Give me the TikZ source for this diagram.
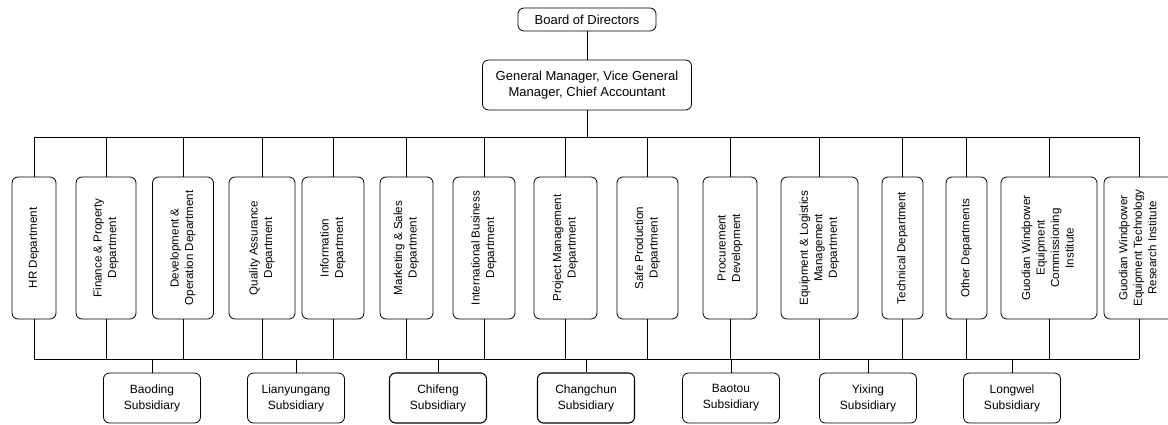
\documentclass[tikz,border=0pt]{standalone}
\usepackage{fontspec}
\setmainfont{Liberation Sans}
\usepackage{graphicx}
\usetikzlibrary{positioning}

\newcommand{\vtext}[1]{\rotatebox{90}{\begin{tabular}{@{}c@{}}#1\end{tabular}}}

\tikzset{
    box/.style={draw, line width=0.8pt, rounded corners=6pt, align=center, inner sep=2pt},
    dept/.style={box, minimum height=142pt, font=\fontsize{11.6}{14.5}\selectfont},
    sub/.style={box, minimum width=97pt, minimum height=50pt, font=\fontsize{12}{16}\selectfont},
    link/.style={line width=0.8pt},
}

\begin{document}
\begin{tikzpicture}[x=1pt, y=1pt]
    \useasboundingbox (0,0) rectangle (1168,-425);

    % Nodes
    \node[box, minimum width=138pt, minimum height=23pt, font=\fontsize{13}{15}\selectfont]
        (board) at (587,-19.5) {Board of Directors};
    \node[box, minimum width=209pt, minimum height=50pt, font=\fontsize{13}{16}\selectfont]
        (gm) at (587,-85) {General Manager, Vice General\\Manager, Chief Accountant};

    % Departments
    \node[dept, minimum width=44pt] (hr) at (34,-248) {\vtext{HR Department}};
    \node[dept, minimum width=60pt] (finance) at (106,-248) {\vtext{Finance \& Property\\Department}};
    \node[dept, minimum width=61pt] (develop) at (183,-248) {\vtext{Development \&\\Operation Department}};
    \node[dept, minimum width=66pt] (quality) at (262,-248) {\vtext{Quality Assurance\\Department}};
    \node[dept, minimum width=62pt] (info) at (333,-248) {\vtext{Information\\Department}};
    \node[dept, minimum width=53pt] (marketing) at (406.5,-248) {\vtext{Marketing \& Sales\\Department}};
    \node[dept, minimum width=62pt] (intl) at (484,-248) {\vtext{International Business\\Department}};
    \node[dept, minimum width=63pt] (project) at (565.5,-248) {\vtext{Project Management\\Department}};
    \node[dept, minimum width=61pt] (safe) at (647.5,-248) {\vtext{Safe Production\\Department}};
    \node[dept, minimum width=54pt] (procure) at (730,-248) {\vtext{Procurement\\Development}};
    \node[dept, minimum width=77pt] (equip) at (819.5,-248) {\vtext{Equipment \& Logistics\\Management\\Department}};
    \node[dept, minimum width=41pt] (tech) at (902.5,-248) {\vtext{Technical Department}};
    \node[dept, minimum width=41pt] (other) at (966.5,-248) {\vtext{Other Departments}};
    \node[dept, minimum width=96pt] (commission) at (1049,-248) {\vtext{Guodian Windpower\\Equipment\\Commissioning\\Institute}};
    \node[dept, minimum width=70pt] (research) at (1139,-248) {\vtext{Guodian Windpower\\Equipment Technology\\Research Institute}};

    % Subsidiaries
    \node[sub] (baoding) at (152,-398) {Baoding\\Subsidiary};
    \node[sub] (lianyungang) at (296,-398) {Lianyungang\\Subsidiary};
    \node[sub, line width=1.1pt] (chifeng) at (438,-398) {Chifeng\\Subsidiary};
    \node[sub, line width=1.1pt] (changchun) at (586,-398) {Changchun\\Subsidiary};
    \node[sub] (baotou) at (731,-398) {Baotou\\Subsidiary};
    \node[sub] (yixing) at (868,-398) {Yixing\\Subsidiary};
    \node[sub] (longwel) at (1012,-398) {Longwel\\Subsidiary};

    % Lines
    \coordinate (tbus) at (0,-137);
    \coordinate (bbus) at (0,-359);
    \draw[link] (board) -- (gm);
    \draw[link] (gm.south) -- (gm.south |- tbus);
    \draw[link] (hr.north |- tbus) -- (research.north |- tbus);
    \draw[link] (hr.south |- bbus) -- (research.south |- bbus);
    \foreach \d in {hr, finance, develop, quality, info, marketing, intl, project,
                    safe, procure, equip, tech, other, commission, research} {
        \draw[link] (\d.north) -- (\d.north |- tbus);
        \draw[link] (\d.south) -- (\d.south |- bbus);
    }
    \foreach \s in {baoding, lianyungang, chifeng, changchun, baotou, yixing, longwel}
        \draw[link] (\s.north) -- (\s.north |- bbus);
\end{tikzpicture}
\end{document}
